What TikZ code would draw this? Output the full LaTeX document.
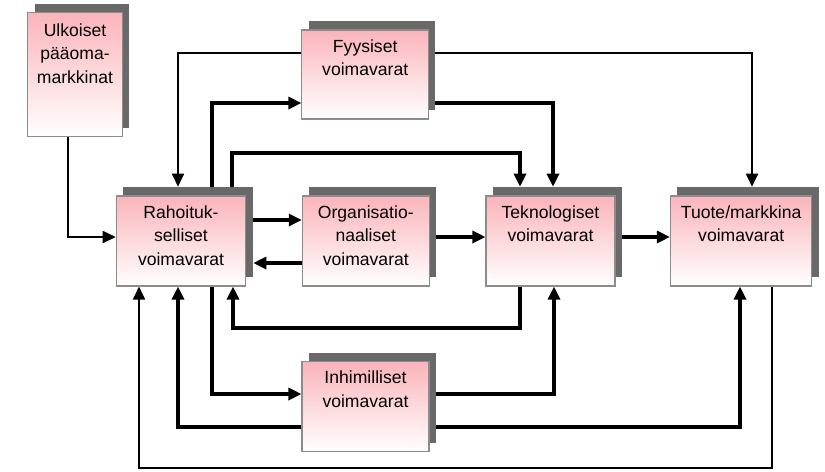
\documentclass[tikz,border=0pt]{standalone}
\usepackage{fontspec}
\setmainfont{Liberation Sans}
\usetikzlibrary{arrows.meta,shadows,backgrounds}

\definecolor{roosa}{RGB}{250,180,186}
\definecolor{varjo}{RGB}{105,105,105}
\definecolor{reuna}{RGB}{140,140,140}

\tikzset{
  voimavara/.style={draw=reuna, line width=0.6pt, top color=roosa, bottom color=white, inner sep=0pt,
    general shadow={shadow xshift=0.14cm, shadow yshift=0.175cm, fill=varjo}},
  teksti/.style={anchor=north, inner sep=0pt, align=center, font=\fontsize{10}{13.4}\selectfont},
  kapea/.style={line width=1pt, -{Triangle[length=0.26cm,width=0.24cm]}},
  levea/.style={line width=1.8pt, -{Triangle[length=0.26cm,width=0.24cm]}},
  varjoon/.style={shorten >=0.175cm},
  sivuvarjo/.style={shorten >=0.14cm}
}

\begin{document}
\begin{tikzpicture}[x=0.02cm, y=-0.02cm]
\useasboundingbox (0,0) rectangle (825,471);
% laatikot
\node[voimavara, minimum width=1.9cm, minimum height=2.48cm] (ulk) at (75,74.7) {};
\node[voimavara, minimum width=2.53cm, minimum height=1.78cm] (fyy) at (365.2,74.5) {};
\node[voimavara, minimum width=2.59cm, minimum height=1.8cm] (rah) at (181,241) {};
\node[voimavara, minimum width=2.54cm, minimum height=1.8cm] (org) at (365.8,241) {};
\node[voimavara, minimum width=2.58cm, minimum height=1.8cm] (tek) at (550.5,241) {};
\node[voimavara, minimum width=2.83cm, minimum height=1.8cm] (tuo) at (741.2,241) {};
\node[voimavara, minimum width=2.54cm, minimum height=1.8cm] (inh) at (365.5,406.7) {};
% tekstit
\node[teksti] (ulkt) at ([yshift=-0.22cm]ulk.north) {Ulkoiset\\pääoma-\\markkinat};
\node[teksti] (fyyt) at ([yshift=-0.19cm]fyy.north) {Fyysiset\\voimavarat};
\node[teksti] (raht) at ([yshift=-0.19cm]rah.north) {Rahoituk-\\selliset\\voimavarat};
\node[teksti] (orgt) at ([yshift=-0.19cm]org.north) {Organisatio-\\naaliset\\voimavarat};
\node[teksti] (tekt) at ([yshift=-0.19cm]tek.north) {Teknologiset\\voimavarat};
\node[teksti] (tuot) at ([yshift=-0.19cm]tuo.north) {Tuote/markkina\\voimavarat};
\node[teksti] (inht) at ([yshift=-0.19cm]inh.north) {Inhimilliset\\voimavarat};
% yhteydet
\begin{pgfonlayer}{background}
\draw[kapea] (68,0 |- ulk.south) |- (rah.west |- 0,237);
\draw[kapea, varjoon] (fyy.west |- 0,53) -| (178,0 |- rah.north);
\draw[kapea, varjoon] (fyy.east |- 0,53) -| (752,0 |- tuo.north);
\draw[levea] (212,0 |- rah.north) |- (fyy.west |- 0,103);
\draw[levea, varjoon] (fyy.east |- 0,103) -| (553,0 |- tek.north);
\draw[levea, varjoon] (232,0 |- rah.north) -- (232,153) -| (520,0 |- tek.north);
\draw[levea] (rah.east |- 0,220) -- (org.west |- 0,220);
\draw[levea, sivuvarjo] (org.west |- 0,263) -- (rah.east |- 0,263);
\draw[levea] (org.east |- 0,237) -- (tek.west |- 0,237);
\draw[levea] (tek.east |- 0,237) -- (tuo.west |- 0,237);
\draw[levea] (520,0 |- tek.south) -- (520,328) -| (233,0 |- rah.south);
\draw[levea] (212,0 |- rah.south) |- (inh.west |- 0,394);
\draw[levea] (inh.east |- 0,394) -| (554,0 |- tek.south);
\draw[levea] (inh.west |- 0,427) -| (178,0 |- rah.south);
\draw[levea] (inh.east |- 0,427) -| (740,0 |- tuo.south);
\draw[kapea] (772,0 |- tuo.south) -- (772,468) -| (139,0 |- rah.south);
\end{pgfonlayer}
\end{tikzpicture}
\end{document}
